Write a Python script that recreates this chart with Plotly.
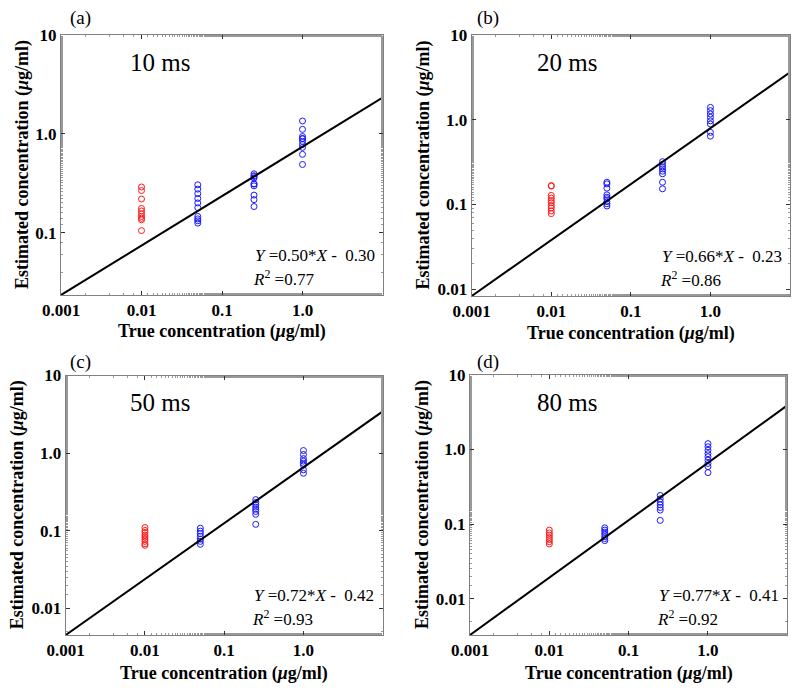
import math
import plotly.graph_objects as go

# ---------------- data ----------------
true_conc = [0.01, 0.05, 0.25, 1.0]
panel_labels = ["(a)", "(b)", "(c)", "(d)"]
exposure = ["10 ms", "20 ms", "50 ms", "80 ms"]
fit_slope = [0.50, 0.66, 0.72, 0.77]
fit_intercept = [-0.30, -0.23, -0.42, -0.41]   # natural-log fit: ln(Y) = a*ln(X) + b
r_squared = [0.77, 0.86, 0.93, 0.92]

a_001 = [0.29, 0.267, 0.219, 0.176, 0.166, 0.155, 0.146, 0.14, 0.135, 0.105]
a_005 = [0.305, 0.276, 0.248, 0.222, 0.2, 0.179, 0.146, 0.138, 0.132, 0.125]
a_025 = [0.394, 0.377, 0.37, 0.357, 0.313, 0.31, 0.298, 0.24, 0.216, 0.184]
a_1 = [1.35, 1.11, 0.94, 0.9, 0.89, 0.84, 0.78, 0.73, 0.62, 0.49]

b_001 = [0.167, 0.165, 0.128, 0.119, 0.111, 0.105, 0.097, 0.091, 0.084, 0.078]
b_005 = [0.183, 0.175, 0.156, 0.13, 0.122, 0.117, 0.108, 0.102, 0.096]
b_025 = [0.32, 0.298, 0.278, 0.263, 0.247, 0.23, 0.183, 0.153]
b_1 = [1.4, 1.28, 1.17, 1.07, 0.97, 0.89, 0.71, 0.64]

c_001 = [0.11, 0.101, 0.095, 0.088, 0.083, 0.078, 0.073, 0.068, 0.065]
c_005 = [0.108, 0.099, 0.092, 0.085, 0.078, 0.073, 0.067]
c_025 = [0.252, 0.232, 0.217, 0.202, 0.189, 0.177, 0.163, 0.121]
c_1 = [1.08, 0.96, 0.85, 0.79, 0.74, 0.70, 0.61, 0.55]

d_001 = [0.083, 0.076, 0.071, 0.066, 0.062, 0.058, 0.054]
d_005 = [0.089, 0.083, 0.078, 0.073, 0.068, 0.064, 0.06]
d_025 = [0.242, 0.218, 0.197, 0.181, 0.167, 0.154, 0.112]
d_1 = [1.2, 1.09, 0.98, 0.88, 0.8, 0.72, 0.65, 0.59, 0.49]

panel_data = [
    [a_001, a_005, a_025, a_1],
    [b_001, b_005, b_025, b_1],
    [c_001, c_005, c_025, c_1],
    [d_001, d_005, d_025, d_1],
]

x_tickvals = [0.001, 0.01, 0.1, 1.0]
x_ticktext = ["0.001", "0.01", "0.1", "1.0"]
y_tickvals = [0.01, 0.1, 1.0, 10]
y_ticktext = ["0.01", "0.1", "1.0", "10"]
x_limits = [0.001, 10]

# ---------------- layout geometry (pixels) ----------------
W, H = 800, 692
plot_boxes = [  # left, right, top, bottom
    (61, 383, 35, 295),
    (471.7, 790, 35, 296),
    (65.7, 382.7, 375.5, 635),
    (470, 787.3, 375, 635),
]
panel_label_pos = [(80, 18), (488, 18), (80, 362), (488, 362)]
exposure_pos = [(160, 62), (567, 62), (160, 402), (567, 402)]
eq_pos = [(253, 255), (660, 256), (252, 595), (657, 595)]
ytitle_x = [22, 423, 17, 422]
xtitle_y = [332, 333, 673, 673]

FONT = "Liberation Serif"

def px(x):
    return x / W

def py(y):
    return 1 - y / H

fig = go.Figure()
annotations = []

for i in range(4):
    l, r, t, b = plot_boxes[i]
    xa = "x" if i == 0 else f"x{i+1}"
    ya = "y" if i == 0 else f"y{i+1}"
    xkey = "xaxis" if i == 0 else f"xaxis{i+1}"
    ykey = "yaxis" if i == 0 else f"yaxis{i+1}"

    groups = panel_data[i]
    for j, conc in enumerate(true_conc):
        ys = groups[j]
        fig.add_trace(go.Scatter(
            x=[conc] * len(ys), y=ys, mode="markers", xaxis=xa, yaxis=ya,
            marker=dict(symbol="circle-open", size=6,
                        color="#ff1a1a" if j == 0 else "#1a1aff",
                        line=dict(width=1)),
            showlegend=False, hoverinfo="x+y"))

    a = fit_slope[i]
    bb = fit_intercept[i]
    fx = x_limits
    fy = [math.exp(bb) * v ** a for v in fx]
    fig.add_trace(go.Scatter(x=fx, y=fy, mode="lines", xaxis=xa, yaxis=ya,
                             line=dict(color="black", width=2),
                             showlegend=False, hoverinfo="skip"))

    ymin = math.log10(fy[0])
    if i == 0:
        yt_v, yt_t = y_tickvals[1:], y_ticktext[1:]
    else:
        yt_v, yt_t = y_tickvals, y_ticktext

    common = dict(type="log", showgrid=False, zeroline=False, automargin=False,
                  showline=True, linecolor="#808080", linewidth=1, mirror="allticks",
                  ticks="inside", ticklen=4, tickcolor="#333333", tickwidth=1,
                  minor=dict(ticks="inside", ticklen=2, tickcolor="#999999", showgrid=False),
                  tickfont=dict(family=FONT, size=17, color="black", weight="bold"))
    fig.layout[xkey] = dict(common, domain=[px(l), px(r)], anchor=ya,
                            range=[math.log10(x_limits[0]), math.log10(x_limits[1])],
                            tickvals=x_tickvals, ticktext=x_ticktext)
    fig.layout[ykey] = dict(common, domain=[py(b), py(t)], anchor=xa,
                            range=[ymin, 1], tickvals=yt_v, ticktext=yt_t)

    # axis titles
    annotations.append(dict(
        x=px((l + r) / 2), y=py(xtitle_y[i]), xref="paper", yref="paper",
        text="<b>True concentration (<i>μ</i>g/ml)</b>", showarrow=False,
        font=dict(family=FONT, size=18, color="black"), xanchor="center", yanchor="middle"))
    annotations.append(dict(
        x=px(ytitle_x[i]), y=py((t + b) / 2), xref="paper", yref="paper",
        text="<b>Estimated concentration (<i>μ</i>g/ml)</b>", showarrow=False, textangle=-90,
        font=dict(family=FONT, size=18, color="black"), xanchor="center", yanchor="middle"))
    # panel label
    annotations.append(dict(
        x=px(panel_label_pos[i][0]), y=py(panel_label_pos[i][1]), xref="paper", yref="paper",
        text=panel_labels[i], showarrow=False,
        font=dict(family=FONT, size=19, color="black"), xanchor="center", yanchor="middle"))
    # exposure label
    annotations.append(dict(
        x=px(exposure_pos[i][0]), y=py(exposure_pos[i][1]), xref="paper", yref="paper",
        text=exposure[i], showarrow=False,
        font=dict(family=FONT, size=25, color="black"), xanchor="center", yanchor="middle"))
    # equation and R^2
    sign = "-" if bb < 0 else "+"
    eq = f"<i>Y</i> =0.{int(round(a*100)):02d}*<i>X</i> {sign}\u00a0\u00a0{abs(bb):.2f}"
    annotations.append(dict(
        x=px(eq_pos[i][0]), y=py(eq_pos[i][1]), xref="paper", yref="paper",
        text=eq, showarrow=False,
        font=dict(family=FONT, size=17, color="black"), xanchor="left", yanchor="middle"))
    annotations.append(dict(
        x=px(eq_pos[i][0] - 2), y=py(eq_pos[i][1] + 23), xref="paper", yref="paper",
        text=f"<i>R</i><sup>2</sup> ={r_squared[i]:.2f}", showarrow=False,
        font=dict(family=FONT, size=17, color="black"), xanchor="left", yanchor="middle"))

fig.update_layout(template="none", width=W, height=H, margin=dict(l=0, r=0, t=0, b=0),
                  paper_bgcolor="white", plot_bgcolor="white",
                  font=dict(family=FONT, color="black"),
                  annotations=annotations, showlegend=False)

fig.write_html("out.html", config={"displayModeBar": False},
               post_script="document.body.style.margin='0';")
